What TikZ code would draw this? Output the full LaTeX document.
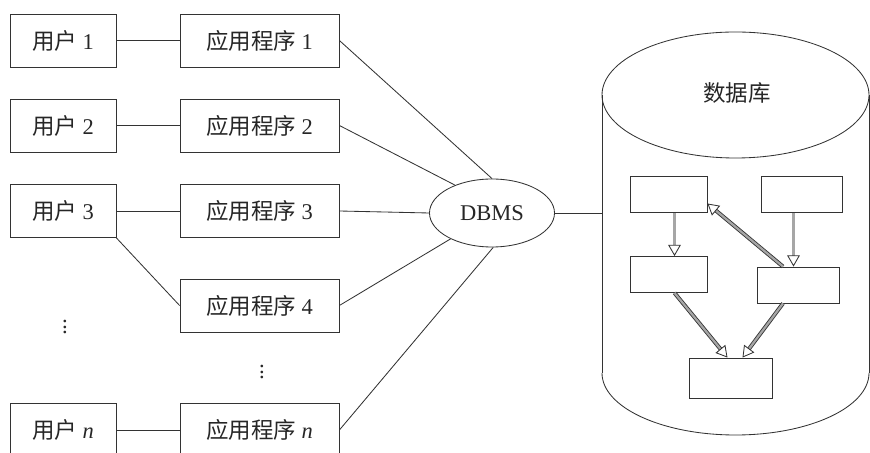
\documentclass[tikz,border=0pt]{standalone}
\usepackage{fontspec}
\setmainfont{Liberation Serif}
\newfontfamily\cjk{Noto Sans CJK SC}
\usepackage{tikz}
\usetikzlibrary{arrows.meta,positioning,calc,shapes.geometric}

\begin{document}
\begin{tikzpicture}[x=0.025cm,y=0.025cm,
  line width=0.6pt, draw=black!80,
  every node/.style={font=\fontsize{16}{19}\selectfont, text=black!85},
  userbox/.style={draw, minimum width=106*0.025cm, minimum height=53*0.025cm, inner sep=0pt},
  appbox/.style={draw, minimum width=159*0.025cm, minimum height=53*0.025cm, inner sep=0pt},
  tablebox/.style={draw, inner sep=0pt, minimum height=36*0.025cm},
  flow/.style={double=black!35, double distance=1.6pt, line width=0.6pt,
    -{Triangle[open, length=8pt, width=9pt, line width=0.6pt]}}]
\useasboundingbox (0,0) rectangle (870,453);
% users and their programs
\node[userbox] (user1) at (63,412.5) {{\cjk 用户} 1};
\node[userbox] (user2) at (63,327.5) {{\cjk 用户} 2};
\node[userbox] (user3) at (63,242) {{\cjk 用户} 3};
\node[userbox] (usern) at (63,23) {{\cjk 用户} \textit{n}};
\node (userdots) at (65,130) {$\vdots$};
\node[appbox] (app1) at (259.5,412.5) {{\cjk 应用程序} 1};
\node[appbox] (app2) at (259.5,327.5) {{\cjk 应用程序} 2};
\node[appbox] (app3) at (259.5,242) {{\cjk 应用程序} 3};
\node[appbox] (app4) at (259.5,147.5) {{\cjk 应用程序} 4};
\node[appbox] (appn) at (259.5,23) {{\cjk 应用程序} \textit{n}};
\node (appdots) at (262,85) {$\vdots$};
\draw (user1) -- (app1);
\draw (user2) -- (app2);
\draw (user3) -- (app3);
\draw (user3.south east) -- (app4.west);
\draw (usern) -- (appn);
% DBMS
\node[draw, ellipse, minimum width=125*0.025cm, minimum height=68*0.025cm, inner sep=0pt] (dbms) at (492,240) {DBMS};
\draw (app1.east) -- (dbms.north);
\draw (app2.east) -- (dbms.143);
\draw (app3.east) -- (dbms.west);
\draw (app4.east) -- (dbms.212);
\draw (appn.east) -- (dbms.272);
% database cylinder
\draw (602,80) -- (602,358) (869,358) -- (869,80);
\draw (602,80) arc[start angle=180, end angle=360, x radius=133.5, y radius=62];
\draw (735.5,358) ellipse[x radius=133.5, y radius=63];
\coordinate (dbleft) at (602,240);
\draw (dbms.east) -- (dbleft);
\node at (737,360) {\cjk 数据库};
\node[tablebox, minimum width=77*0.025cm] (A) at (668.5,258.5) {};
\node[tablebox, minimum width=81*0.025cm] (B) at (801.5,258.5) {};
\node[tablebox, minimum width=77*0.025cm] (C) at (668.5,178.5) {};
\node[tablebox, minimum width=82*0.025cm] (D) at (798,168) {};
\node[tablebox, minimum width=83*0.025cm, minimum height=40*0.025cm] (E) at (730.5,75) {};
\coordinate (a1) at ($(A.south)+(6,0)$);
\coordinate (b1) at ($(B.south)+(-8,0)$);
\coordinate (d1) at ($(D.north)+(-15,0)$);
\coordinate (d2) at ($(D.south)+(-15,0)$);
\coordinate (c1) at ($(C.south)+(6,0)$);
\draw[flow] (a1) -- (a1 |- C.north);
\draw[flow] (b1) -- (b1 |- D.north);
\draw[flow] (d1) -- ($(A.east)+(0,-9)$);
\draw[flow] (c1) -- ($(E.north)+(-3,0)$);
\draw[flow] (d2) -- ($(E.north)+(12,0)$);
\end{tikzpicture}
\end{document}
